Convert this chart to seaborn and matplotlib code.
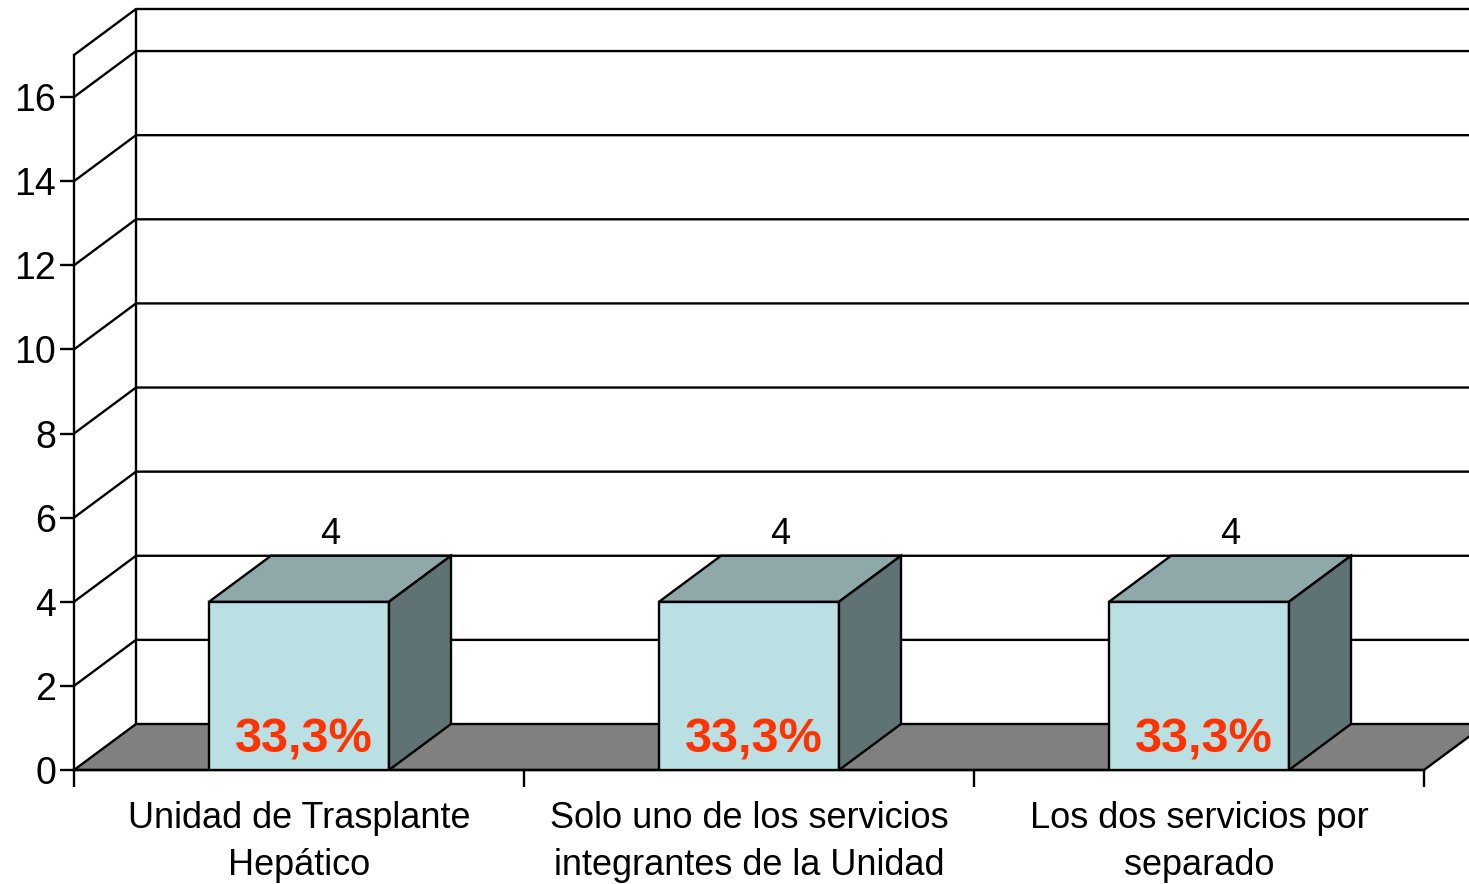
import matplotlib
matplotlib.use("Agg")
import matplotlib.pyplot as plt
from matplotlib.patches import Polygon
import pandas
import seaborn as sns

categories = ["Unidad de Trasplante\nHepático",
              "Solo uno de los servicios\nintegrantes de la Unidad",
              "Los dos servicios por\nseparado"]
counts = [4, 4, 4]
percents = ["33,3%", "33,3%", "33,3%"]
yticks = [0, 2, 4, 6, 8, 10, 12, 14, 16]

sns.set_style("ticks", {"axes.edgecolor": "black", "xtick.color": "black",
                        "ytick.color": "black", "text.color": "black"})
plt.rcParams["font.family"] = ["Liberation Sans", "DejaVu Sans"]

fig = plt.figure(figsize=(14.69, 8.84), dpi=100)
ax = fig.add_axes([74 / 1469, 114 / 884, 1350 / 1469, 715 / 884])

ymax = 17
# depth of the fake 3d box, in data units
dx = 62 / 450
dy = 46 / (715 / ymax)
lw = 1.7

df = pandas.DataFrame({"cat": categories, "n": counts})
sns.barplot(data=df, x="cat", y="n", color="#BAE0E4", saturation=1, width=0.4,
            edgecolor="black", linewidth=lw, ax=ax, zorder=3)
bars = list(ax.patches)

# floor
ax.add_patch(Polygon([(-0.5, 0), (2.5, 0), (2.5 + dx, dy), (-0.5 + dx, dy)],
                     fc="#808080", ec="black", lw=lw, clip_on=False, zorder=1))
# back wall grid + side wall
for y in yticks[1:] + [ymax]:
    ax.plot([-0.5, -0.5 + dx, 2.5 + dx], [y, y + dy, y + dy], color="black",
            lw=lw, clip_on=False, zorder=0.5)
ax.plot([-0.5 + dx, -0.5 + dx], [dy, ymax + dy], color="black", lw=lw,
        clip_on=False, zorder=0.5)

for bar, pct in zip(bars, percents):
    x0, w, h = bar.get_x(), bar.get_width(), bar.get_height()
    ax.add_patch(Polygon([(x0, h), (x0 + w, h), (x0 + w + dx, h + dy), (x0 + dx, h + dy)],
                         fc="#8FA9AB", ec="black", lw=lw, zorder=3))
    ax.add_patch(Polygon([(x0 + w, 0), (x0 + w + dx, dy), (x0 + w + dx, h + dy), (x0 + w, h)],
                         fc="#5F7374", ec="black", lw=lw, zorder=3))
    ax.text(x0 + w / 2 + dx / 2, h + dy + 0.1, "{:g}".format(h), ha="center",
            va="bottom", fontsize=26)
    ax.text(x0 + w / 2 + 0.01, 0.72, pct, ha="center", va="center", fontsize=35,
            fontweight="bold", color="#FF3300", zorder=5)

ax.set_xlim(-0.5, 2.5)
ax.set_ylim(0, ymax)
ax.set_yticks(yticks)
ax.set_xticks([0, 1, 2])
ax.set_xticklabels(categories, linespacing=1.45)
ax.set_xticks([-0.5, 0.5, 1.5, 2.5], minor=True)
ax.tick_params(axis="y", direction="out", length=10, width=lw, labelsize=27, pad=3)
ax.tick_params(axis="x", which="major", length=0, labelsize=26, pad=22)
ax.tick_params(axis="x", which="minor", length=12, width=lw)
ax.set_xlabel("")
ax.set_ylabel("")
for s in ["top", "right"]:
    ax.spines[s].set_visible(False)
for s in ["left", "bottom"]:
    ax.spines[s].set_linewidth(lw)
ax.patch.set_alpha(0)

fig.savefig("out.png", dpi=100)
